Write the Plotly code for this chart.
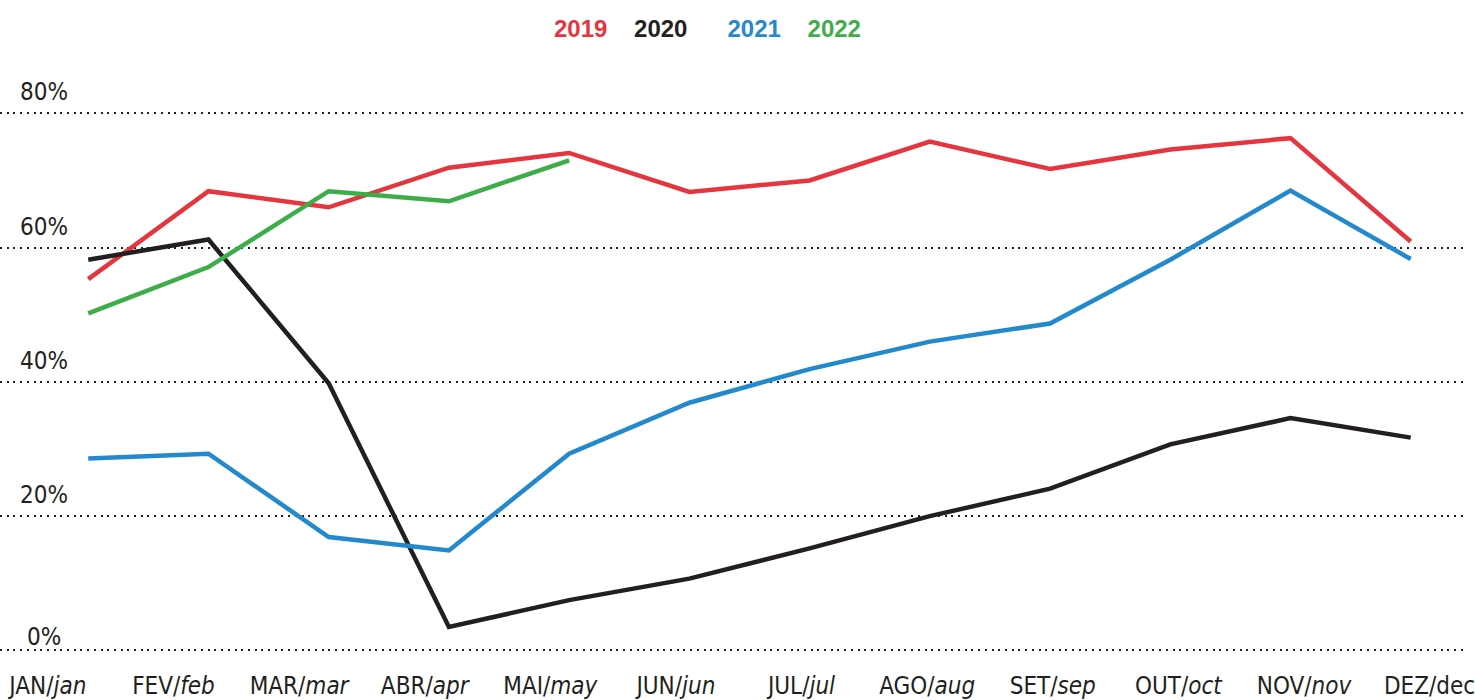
import plotly.graph_objects as go

# ---- data ----
months_pt = ["JAN", "FEV", "MAR", "ABR", "MAI", "JUN", "JUL", "AGO", "SET", "OUT", "NOV", "DEZ"]
months_en = ["jan", "feb", "mar", "apr", "may", "jun", "jul", "aug", "sep", "oct", "nov", "dec"]
x_idx = list(range(12))

years = ["2019", "2020", "2021", "2022"]
y2019 = [55.3, 68.4, 66.0, 71.9, 74.1, 68.3, 70.0, 75.8, 71.7, 74.6, 76.3, 60.9]
y2020 = [58.2, 61.2, 39.8, 3.5, 7.5, 10.7, 15.2, 20.0, 24.1, 30.7, 34.6, 31.7]
y2021 = [28.6, 29.3, 16.9, 14.9, 29.3, 36.9, 41.9, 46.0, 48.7, 58.2, 68.5, 58.3]
y2022 = [50.2, 57.1, 68.4, 66.9, 73.0]
y_ticks = [0, 20, 40, 60, 80]

colors = {"2019": "#e5363f", "2020": "#231f20", "2021": "#2389cd", "2022": "#3cad48"}
series = {"2019": y2019, "2020": y2020, "2021": y2021, "2022": y2022}

FONT = "Liberation Sans Narrow, DejaVu Sans Condensed, Arial Narrow, Arial, sans-serif"
TXT = "#231f20"

fig = go.Figure()
for yr in years:
    vals = series[yr]
    fig.add_trace(go.Scatter(
        x=x_idx[:len(vals)], y=vals, mode="lines", name=yr,
        line=dict(color=colors[yr], width=4.5), showlegend=False,
    ))

# invisible trace to activate the label axis
fig.add_trace(go.Scatter(x=[0], y=[None], xaxis="x2", mode="markers",
                         marker=dict(opacity=0), showlegend=False, hoverinfo="skip"))

ticktext = []
for pt, en in zip(months_pt, months_en):
    if en == "dec":
        ticktext.append(f"{pt}/{en}")
    else:
        ticktext.append(f"{pt}/<i>{en}</i>")

fig.update_layout(
    width=1475, height=700,
    margin=dict(l=0, r=0, t=50, b=30),
    plot_bgcolor="white", paper_bgcolor="white",
    xaxis=dict(range=[-0.734, 11.460], showticklabels=False, showgrid=False,
               zeroline=False, showline=False, fixedrange=True),
    xaxis2=dict(range=[-0.381, 11.29], overlaying="x", side="bottom", anchor="y",
                tickvals=x_idx, ticktext=ticktext, showgrid=False, zeroline=False,
                showline=False, ticks="", ticklabelstandoff=0,
                ticklabeloverflow="allow",
                tickfont=dict(family=FONT, size=24, color=TXT)),
    yaxis=dict(range=[-2.76, 89.43], tickvals=y_ticks, showticklabels=False,
               showgrid=True, gridcolor=TXT, gridwidth=2, griddash="2px,4.7px",
               zeroline=False, showline=False, fixedrange=True),
)

for v in y_ticks:
    fig.add_annotation(x=44 / 1475, xref="paper", xanchor="center",
                       y=v, yref="y", yanchor="bottom", yshift=(-3 if v == 0 else 5),
                       text=f"{v}%", showarrow=False,
                       font=dict(family=FONT, size=24, color=TXT))

sp = "\u00a0" * 4
sp2 = "\u00a0" * 6
parts = [f"<span style='color:{colors[y]}'><b>{y}</b></span>" for y in years]
legend_text = parts[0] + sp + parts[1] + sp2 + parts[2] + sp + parts[3]
fig.add_annotation(x=712 / 1475, xref="paper", xanchor="center",
                   y=1 + (50 - 28) / 620, yref="paper", yanchor="middle",
                   text=legend_text, showarrow=False,
                   font=dict(family="Liberation Sans, Arial, sans-serif", size=24))

fig.write_html("out.html", config={"displayModeBar": False},
               post_script="document.body.style.margin='0';document.body.style.overflow='hidden';")
